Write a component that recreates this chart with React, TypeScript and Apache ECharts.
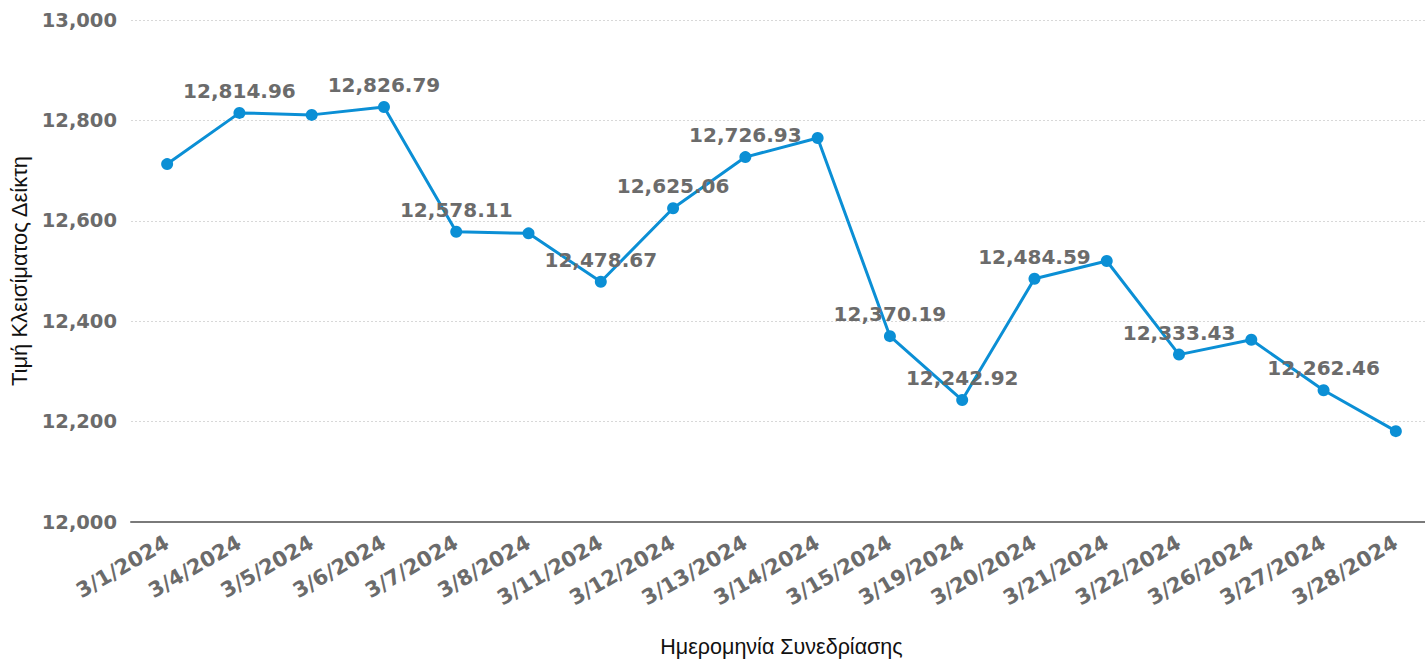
import React, { useEffect, useRef } from "react";
import * as echarts from "echarts";

const dates = ["3/1/2024", "3/4/2024", "3/5/2024", "3/6/2024", "3/7/2024", "3/8/2024", "3/11/2024", "3/12/2024", "3/13/2024", "3/14/2024", "3/15/2024", "3/19/2024", "3/20/2024", "3/21/2024", "3/22/2024", "3/26/2024", "3/27/2024", "3/28/2024"];
const closes = [12713, 12814.96, 12811, 12826.79, 12578.11, 12575, 12478.67, 12625.06, 12726.93, 12765, 12370.19, 12242.92, 12484.59, 12520, 12333.43, 12363, 12262.46, 12181];
const labelled = [false, true, false, true, true, false, true, true, true, false, true, true, true, false, true, false, true, false];

const GRAY = "#6b6b6b";
const FONT = "'DejaVu Sans', Verdana, sans-serif";

export default function App() {
  const ref = useRef<HTMLDivElement>(null);
  useEffect(() => {
    document.body.style.margin = "0";
    document.body.style.overflow = "hidden";
    const chart = echarts.init(ref.current!, null, { renderer: "svg" });
    const fmt = (v: number) => v.toLocaleString("en-US", { minimumFractionDigits: 2, maximumFractionDigits: 2 });
    chart.setOption({
      animation: false,
      grid: { left: 131, top: 20, width: 1301, height: 502, containLabel: false, outerBoundsMode: "none" },
      xAxis: {
        type: "category",
        data: dates,
        boundaryGap: true,
        name: "Ημερομηνία Συνεδρίασης",
        nameLocation: "middle",
        nameGap: 114,
        nameTextStyle: { fontFamily: "'Liberation Sans', Arial, sans-serif", fontSize: 21.5, color: "#111" },
        axisLine: { lineStyle: { color: "#7a7a7a", width: 2 } },
        axisTick: { alignWithLabel: true, length: 8, lineStyle: { color: "#7a7a7a", width: 2 } },
        axisLabel: { rotate: 30, interval: 0, fontFamily: FONT, fontWeight: "bold", fontSize: 21, color: GRAY, margin: 19 },
      },
      yAxis: {
        type: "value",
        min: 12000,
        max: 13000,
        interval: 200,
        name: "Τιμή Κλεισίματος Δείκτη",
        nameLocation: "middle",
        nameGap: 100,
        nameRotate: 90,
        nameTextStyle: { fontFamily: "'Liberation Sans', Arial, sans-serif", fontSize: 22, color: "#111" },
        axisLine: { show: false },
        axisTick: { show: false },
        axisLabel: {
          fontFamily: FONT, fontWeight: "bold", fontSize: 19.5, color: GRAY, margin: 14,
          formatter: (v: number) => v.toLocaleString("en-US"),
        },
        splitLine: { lineStyle: { color: "#d8d8d8", type: [2, 2], width: 1 } },
      },
      series: [
        {
          type: "line",
          data: closes.map((v, i) => ({ value: v, label: { show: labelled[i] } })),
          symbol: "circle",
          symbolSize: 12,
          lineStyle: { color: "#0b8fd5", width: 3 },
          itemStyle: { color: "#0b8fd5" },
          label: {
            position: "top",
            distance: 6,
            fontFamily: FONT,
            fontWeight: "bold",
            fontSize: 20,
            color: GRAY,
            formatter: (p: any) => fmt(p.value),
          },
          labelLayout: { hideOverlap: false },
        },
      ],
    });
    return () => chart.dispose();
  }, []);
  return <div ref={ref} style={{ width: 1425, height: 659, overflow: "hidden" }} />;
}
